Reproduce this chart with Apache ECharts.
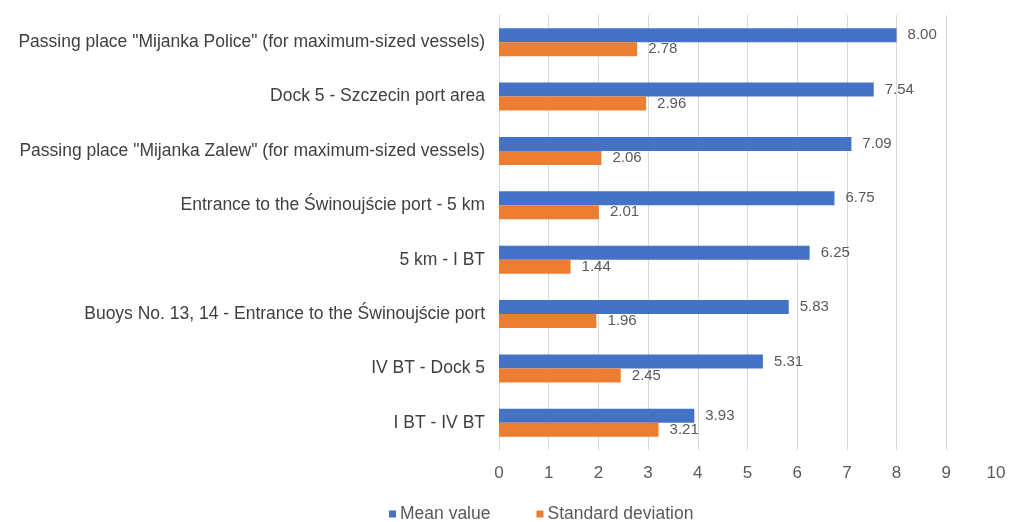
<!DOCTYPE html>
<html>
<head>
<meta charset="utf-8">
<script src="https://cdn.jsdelivr.net/npm/echarts@6/dist/echarts.min.js"></script>
<style>
  html, body { margin: 0; padding: 0; background: #fff; }
  #main { width: 1010px; height: 522px; }
</style>
</head>
<body>
<div id="main"></div>
<script>
var categories = [
    'Passing place "Mijanka Police" (for maximum-sized vessels)',
    'Dock 5 - Szczecin port area',
    'Passing place "Mijanka Zalew" (for maximum-sized vessels)',
    'Entrance to the Świnoujście port - 5 km',
    '5 km - I BT',
    'Buoys No. 13, 14 - Entrance to the Świnoujście port',
    'IV BT - Dock 5',
    'I BT - IV BT'
];
var meanValues = [8.00, 7.54, 7.09, 6.75, 6.25, 5.83, 5.31, 3.93];
var stdValues = [2.78, 2.96, 2.06, 2.01, 1.44, 1.96, 2.45, 3.21];

var myChart = echarts.init(document.getElementById('main'));

var fontName = 'Liberation Sans, Arial, sans-serif';
var labelStyle = {
    show: true,
    position: 'right',
    distance: 11,
    color: '#595959',
    fontSize: 15,
    fontFamily: fontName,
    formatter: function (p) { return p.value.toFixed(2); }
};

var option = {
    backgroundColor: '#fff',
    animation: false,
    grid: { left: 499, right: 14, top: 15, bottom: 72 },
    legend: {
        top: 500,
        left: 384,
        itemWidth: 7,
        itemHeight: 7,
        itemGap: 46,
        icon: 'rect',
        textStyle: { color: '#595959', fontSize: 17.5, fontFamily: fontName, padding: [0, 0, 0, -1] },
        data: ['Mean value', 'Standard deviation']
    },
    xAxis: {
        type: 'value',
        min: 0,
        max: 10,
        interval: 1,
        axisLine: { show: false },
        axisTick: { show: false },
        axisLabel: { color: '#595959', fontSize: 17, margin: 15, fontFamily: fontName },
        splitLine: { showMaxLine: false, lineStyle: { color: '#d9d9d9' } }
    },
    yAxis: {
        type: 'category',
        inverse: true,
        data: categories,
        axisLine: { lineStyle: { color: '#d9d9d9' } },
        axisTick: { show: false },
        axisLabel: { color: '#404040', fontSize: 17.5, margin: 14, fontFamily: fontName }
    },
    series: [
        {
            name: 'Mean value',
            type: 'bar',
            data: meanValues,
            barWidth: 14,
            barGap: '0%',
            itemStyle: { color: '#4472c4' },
            label: labelStyle
        },
        {
            name: 'Standard deviation',
            type: 'bar',
            data: stdValues,
            barWidth: 14,
            barGap: '0%',
            itemStyle: { color: '#ed7d31' },
            label: labelStyle
        }
    ]
};

myChart.setOption(option);
window.addEventListener('resize', function () {
    myChart.resize();
});
</script>
</body>
</html>
